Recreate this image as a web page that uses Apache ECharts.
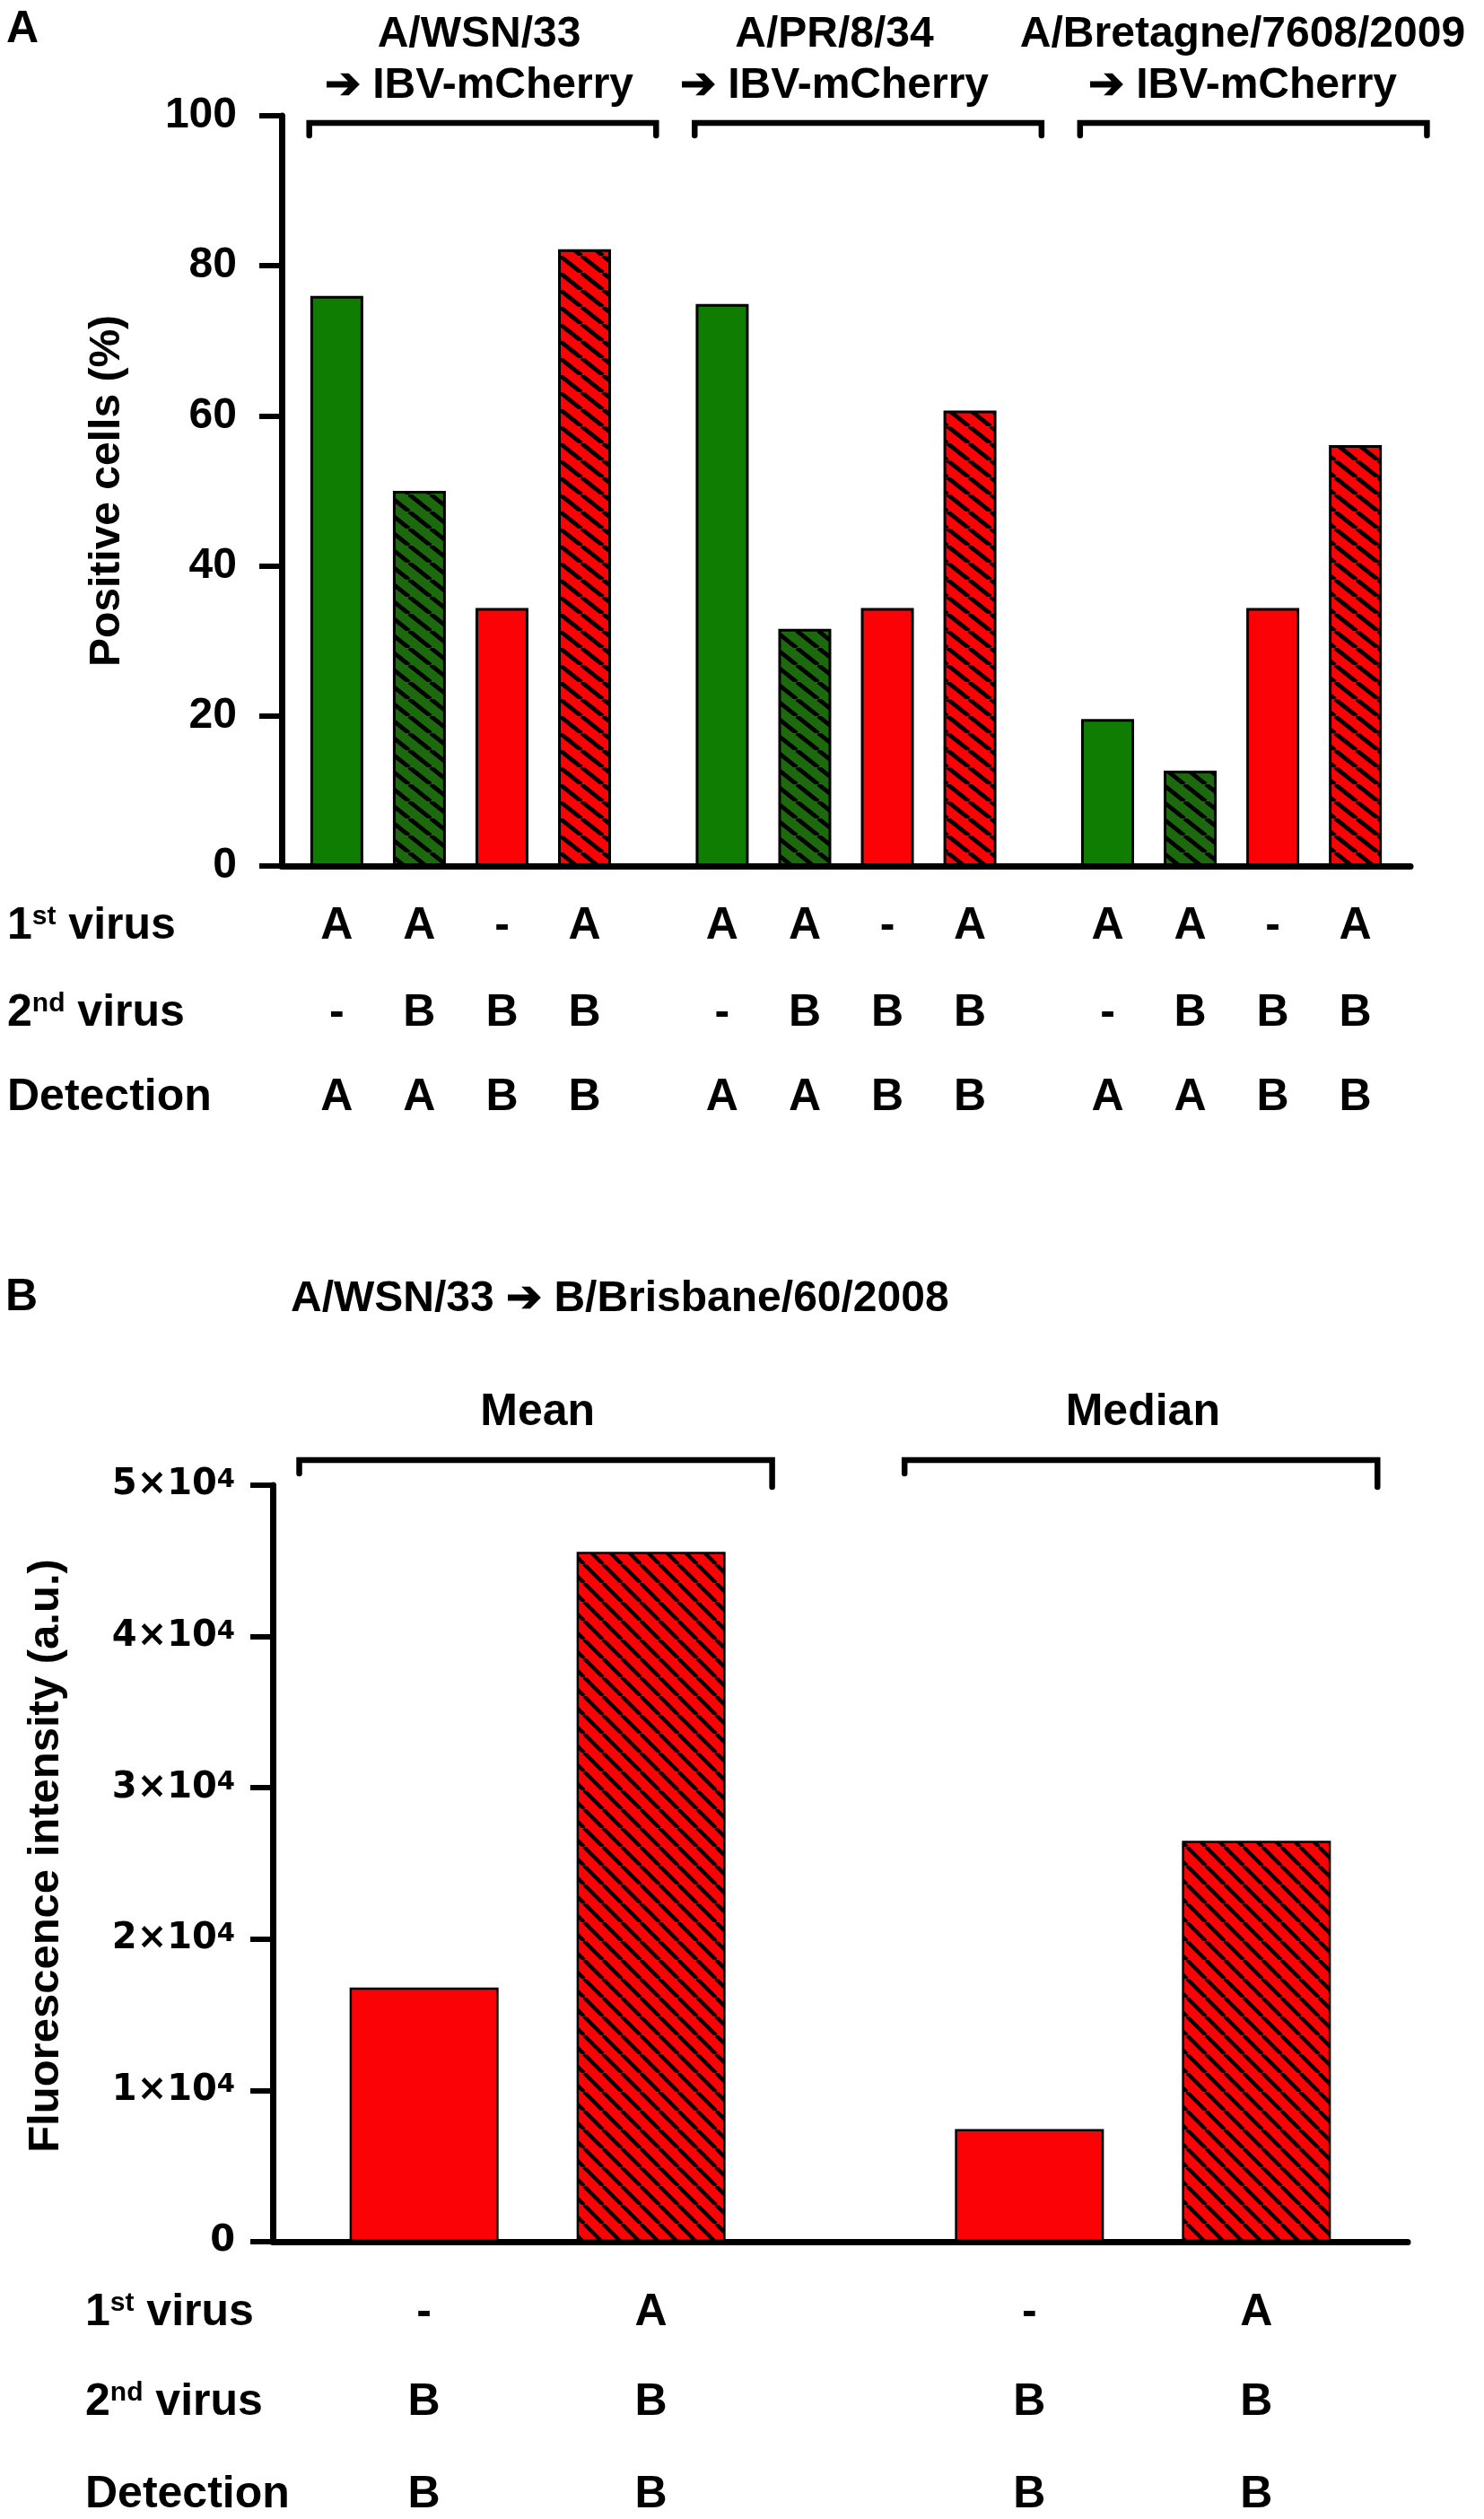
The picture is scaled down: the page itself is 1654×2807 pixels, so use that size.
<!DOCTYPE html>
<html><head><meta charset="utf-8">
<script src="https://cdn.jsdelivr.net/npm/echarts@6/dist/echarts.min.js"></script>
<style>html,body{margin:0;padding:0;background:#fff;} #c{width:1654px;height:2807px;}</style>
</head><body><div id="c"></div>
<script>
// ---------- Panel A data ----------
const groupTitlesA = ['A/WSN/33', 'A/PR/8/34', 'A/Bretagne/7608/2009'];
const groupSubtitleA = '\u2794 IBV-mCherry';
const valuesA = [
  [76.0, 50.0, 34.4, 82.2],
  [74.9, 31.6, 34.4, 60.7],
  [19.6, 12.7, 34.4, 56.1]
];
const kindsA = ['greenSolid', 'greenHatch', 'redSolid', 'redHatch'];
const firstVirusA = ['A', 'A', '-', 'A'];
const secondVirusA = ['-', 'B', 'B', 'B'];
const detectionA = ['A', 'A', 'B', 'B'];
const yTicksA = [0, 20, 40, 60, 80, 100];

// ---------- Panel B data ----------
const titleB = 'A/WSN/33 \u2794 B/Brisbane/60/2008';
const groupTitlesB = ['Mean', 'Median'];
const valuesB = [
  [16800, 45600],
  [7440, 26500]
];
const kindsB = ['redSolid', 'redHatch'];
const firstVirusB = ['-', 'A'];
const secondVirusB = ['B', 'B'];
const detectionB = ['B', 'B'];
const yTicksB = [0, 10000, 20000, 30000, 40000, 50000];

const rowNames = [
  '{a|1}{s|st}{a| virus}',
  '{a|2}{s|nd}{a| virus}',
  '{a|Detection}'
];

// ---------- styling ----------
const FONT = '"Liberation Sans", Arial, Helvetica, sans-serif';
const GREEN = '#0f7d02', GREEN_H = '#1d6a0e', RED = '#fb0207';

function hatch(bg, W, H, lw) {
  const c = document.createElement('canvas');
  c.width = W; c.height = H;
  const x = c.getContext('2d');
  x.fillStyle = bg; x.fillRect(0, 0, W, H);
  x.strokeStyle = '#000'; x.lineWidth = lw;
  for (let k = -1; k <= 1; k++) {
    x.beginPath(); x.moveTo(k * W, 0); x.lineTo(k * W + W, H); x.stroke();
  }
  return c;
}
const fillsA = {
  greenSolid: GREEN,
  greenHatch: { image: hatch(GREEN_H, 24, 19, 4.8), repeat: 'repeat' },
  redSolid: RED,
  redHatch: { image: hatch(RED, 24, 19, 4.8), repeat: 'repeat' }
};
const fillsB = {
  redSolid: RED,
  redHatch: { image: hatch(RED, 21, 21, 4.2), repeat: 'repeat' }
};

// slot position on the value x-axis: 3 units between bars, 5 between groups
function slot(g, i, n) { return 2 + g * (3 * n + 2) + 3 * i; }

const dataA = [];
valuesA.forEach((row, g) => row.forEach((v, i) => dataA.push({
  value: [slot(g, i, 4), v],
  itemStyle: { color: fillsA[kindsA[i]] }
})));
const dataB = [];
valuesB.forEach((row, g) => row.forEach((v, i) => dataB.push({
  value: [slot(g, i, 2), v],
  itemStyle: { color: fillsB[kindsB[i]] }
})));

const maxXA = valuesA.length * (3 * 4 + 2) - 1;
const maxXB = valuesB.length * (3 * 2 + 2) - 1;

const axisLineStyle = { color: '#000', width: 7 };

const chart = echarts.init(document.getElementById('c'), null, { renderer: 'canvas', width: 1654, height: 2807 });

chart.setOption({
  animation: false,
  backgroundColor: '#fff',
  grid: [
    { left: 314, top: 129, width: 1258, height: 836 },
    { left: 304, top: 1655, width: 1265, height: 843 }
  ],
  xAxis: [
    { gridIndex: 0, type: 'value', min: 0, max: maxXA, axisLine: { show: true, lineStyle: axisLineStyle },
      axisTick: { show: false }, axisLabel: { show: false }, splitLine: { show: false } },
    { gridIndex: 1, type: 'value', min: 0, max: maxXB, axisLine: { show: true, lineStyle: axisLineStyle },
      axisTick: { show: false }, axisLabel: { show: false }, splitLine: { show: false } }
  ],
  yAxis: [
    { gridIndex: 0, type: 'value', min: yTicksA[0], max: yTicksA[yTicksA.length - 1], interval: yTicksA[1] - yTicksA[0],
      axisLine: { show: true, lineStyle: axisLineStyle },
      axisTick: { show: true, length: 25, lineStyle: { color: '#000', width: 6 } },
      axisLabel: { margin: 50, color: '#000', fontFamily: FONT, fontWeight: 'bold', fontSize: 48 },
      splitLine: { show: false } },
    { gridIndex: 1, type: 'value', min: yTicksB[0], max: yTicksB[yTicksB.length - 1], interval: yTicksB[1] - yTicksB[0],
      axisLine: { show: true, lineStyle: axisLineStyle },
      axisTick: { show: true, length: 25, lineStyle: { color: '#000', width: 6 } },
      axisLabel: { margin: 42, color: '#000',
        formatter: v => v === 0 ? '{n|0}' : '{n|' + (v / 10000) + '\u00d710}{s|4}',
        rich: {
          n: { fontFamily: '"DejaVu Sans", sans-serif', fontWeight: 'bold', fontSize: 40, color: '#000' },
          s: { fontFamily: '"DejaVu Sans", sans-serif', fontWeight: 'bold', fontSize: 29, color: '#000', verticalAlign: 'top' }
        } },
      splitLine: { show: false } }
  ],
  series: [
    { type: 'bar', xAxisIndex: 0, yAxisIndex: 0, barWidth: 59, data: dataA,
      itemStyle: { borderColor: '#000', borderWidth: 3 } },
    { type: 'bar', xAxisIndex: 1, yAxisIndex: 1, barWidth: 166, data: dataB,
      itemStyle: { borderColor: '#000', borderWidth: 2.5 } }
  ]
});

// ---------- annotations ----------
function px(grid, x, y) { return chart.convertToPixel({ gridIndex: grid }, [x, y]); }
const G = [];
function text(t, x, y, opts) {
  G.push({
    type: 'text', x: x, y: y, rotation: (opts && opts.rotation) || 0,
    style: Object.assign({ text: t, fill: '#000', font: 'bold 48px ' + FONT, textAlign: 'center', textVerticalAlign: 'middle' }, (opts && opts.style) || {})
  });
}
function bracket(x1, x2, y, d1, d2) {
  G.push({ type: 'polyline', shape: { points: [[x1, y + d1], [x1, y], [x2, y], [x2, y + d2]] },
    style: { stroke: '#000', lineWidth: 6.5, fill: null, lineCap: 'round', lineJoin: 'miter' } });
}
const richRow = {
  a: { fontFamily: FONT, fontWeight: 'bold', fontSize: 50, fill: '#000', color: '#000' },
  s: { fontFamily: FONT, fontWeight: 'bold', fontSize: 30, fill: '#000', color: '#000', verticalAlign: 'top' }
};

// Panel letters
text('A', 7, 33, { style: { font: 'bold 50px ' + FONT, textAlign: 'left' } });
text('B', 6, 1446, { style: { font: 'bold 50px ' + FONT, textAlign: 'left' } });

// Panel A group titles and brackets
const titleXA = [534, 930, 1385];
groupTitlesA.forEach((t, g) => {
  text(t, titleXA[g], 39, { style: { font: 'bold 48px ' + FONT } });
  text(groupSubtitleA, titleXA[g], 96, { style: { font: 'bold 48px ' + FONT } });
  const x1 = px(0, slot(g, 0, 4) - 1, 100)[0];
  const x2 = px(0, slot(g, 3, 4) + 2.6, 100)[0];
  bracket(x1, x2, 137, 14, 14);
});

// Y titles
const midA = (px(0, 0, 0)[1] + px(0, 0, 100)[1]) / 2;
text('Positive cells (%)', 120, midA, { rotation: Math.PI / 2, style: { font: 'bold 48px ' + FONT } });
text('Fluorescence intensity (a.u.)', 51, 2068, { rotation: Math.PI / 2, style: { font: 'bold 49px ' + FONT } });

// Panel A rows
const rowsA = [firstVirusA, secondVirusA, detectionA];
const rowYA = [1032, 1129, 1223];
rowsA.forEach((row, r) => {
  G.push({ type: 'text', x: 8, y: rowYA[r], style: { text: rowNames[r], rich: richRow, font: 'bold 50px ' + FONT, fill: '#000', textAlign: 'left', textVerticalAlign: 'middle' } });
  valuesA.forEach((vals, g) => row.forEach((lab, i) => {
    text(lab, px(0, slot(g, i, 4), 0)[0], rowYA[r], { style: { font: 'bold 50px ' + FONT } });
  }));
});

// Panel B title, group labels, brackets
text(titleB, 324, 1448, { style: { font: 'bold 48px ' + FONT, textAlign: 'left' } });
groupTitlesB.forEach((t, g) => {
  const cx = px(1, (slot(g, 0, 2) + slot(g, 1, 2)) / 2, 0)[0];
  text(t, cx, 1574, { style: { font: 'bold 50px ' + FONT } });
  const x1 = px(1, slot(g, 0, 2) - 1.65, 0)[0];
  const x2 = px(1, slot(g, 1, 2) + 1.6, 0)[0];
  bracket(x1, x2, 1627, 15, 30);
});

// Panel B rows
const rowsB = [firstVirusB, secondVirusB, detectionB];
const rowYB = [2577, 2677, 2780];
rowsB.forEach((row, r) => {
  G.push({ type: 'text', x: 95, y: rowYB[r], style: { text: rowNames[r], rich: richRow, font: 'bold 50px ' + FONT, fill: '#000', textAlign: 'left', textVerticalAlign: 'middle' } });
  valuesB.forEach((vals, g) => row.forEach((lab, i) => {
    text(lab, px(1, slot(g, i, 2), 0)[0], rowYB[r], { style: { font: 'bold 50px ' + FONT } });
  }));
});

chart.setOption({ graphic: { elements: G } });
</script>
</body></html>
